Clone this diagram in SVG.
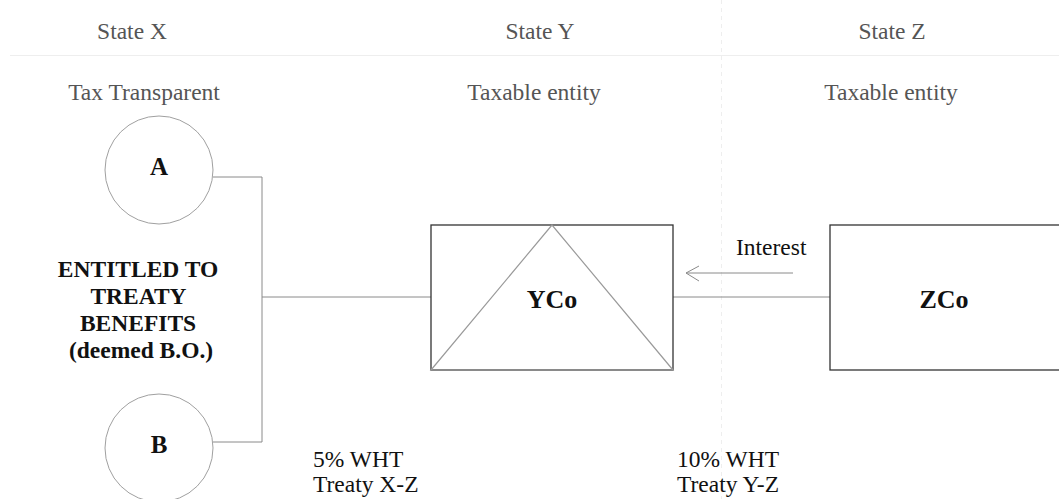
<svg xmlns="http://www.w3.org/2000/svg" width="1059" height="499" viewBox="0 0 1059 499">
  <style>
    .hdr { font-family: "Liberation Serif", "Times New Roman", serif; font-size: 23.5px; fill: #555; text-anchor: middle; }
    .lbl { font-family: "Liberation Serif", "Times New Roman", serif; font-size: 23.5px; fill: #111; }
    .bold { font-family: "Liberation Serif", "Times New Roman", serif; font-weight: bold; fill: #111; text-anchor: middle; }
    .grid { stroke: #eeeeee; stroke-width: 1; fill: none; }
    .conn { stroke: #8a8a8a; stroke-width: 1; fill: none; }
    .box { fill: #fff; stroke: #333; stroke-width: 1.3; }
    .circ { fill: #fff; stroke: #a0a0a0; stroke-width: 1; }
  </style>

  <rect width="1059" height="499" fill="#fff"/>

  <!-- column and header dividers -->
  <g id="dividers">
    <line class="grid" x1="10" y1="55.5" x2="1059" y2="55.5"/>
    <line class="grid" x1="721.5" y1="0" x2="721.5" y2="499" stroke-dasharray="4 4" stroke="#e2e2e2"/>
  </g>

  <!-- headers -->
  <g id="headers">
    <text class="hdr" x="132" y="39">State X</text>
    <text class="hdr" x="540" y="39">State Y</text>
    <text class="hdr" x="892" y="39">State Z</text>
    <text class="hdr" x="144" y="100">Tax Transparent</text>
    <text class="hdr" x="534" y="100">Taxable entity</text>
    <text class="hdr" x="891" y="100">Taxable entity</text>
  </g>

  <!-- connectors -->
  <g id="connectors">
    <polyline class="conn" points="213,177 262,177 262,442 213,442"/>
    <line class="conn" x1="262" y1="297" x2="431" y2="297"/>
    <line class="conn" x1="673" y1="297" x2="830" y2="297"/>
    <line class="conn" x1="793" y1="273" x2="686" y2="273"/>
    <polyline class="conn" points="699,266 686,273 699,281"/>
  </g>

  <g id="node-a">
    <circle class="circ" cx="159" cy="170" r="54"/>
    <text class="bold" x="159" y="175" font-size="25">A</text>
  </g>

  <g id="node-b">
    <circle class="circ" cx="159" cy="448" r="54"/>
    <text class="bold" x="159" y="453" font-size="25">B</text>
  </g>

  <g id="treaty-note">
    <text class="bold" font-size="23.5">
      <tspan x="141" y="277">ENTITLED TO</tspan>
      <tspan x="141" y="304">TREATY</tspan>
      <tspan x="141" y="331">BENEFITS</tspan>
      <tspan x="141" y="358">(deemed B.O.)</tspan>
    </text>
  </g>

  <g id="node-yco">
    <rect class="box" x="431" y="225" width="242" height="145"/>
    <polygon points="552,225 431,370 673,370" fill="none" stroke="#9a9a9a" stroke-width="1.2"/>
    <text class="bold" x="552" y="308" font-size="26">YCo</text>
  </g>

  <g id="node-zco">
    <rect class="box" x="830" y="225" width="240" height="145"/>
    <text class="bold" x="944" y="308" font-size="26">ZCo</text>
  </g>

  <g id="labels">
    <text class="lbl" x="736" y="255">Interest</text>
    <text class="lbl" x="313" y="467">5% WHT</text>
    <text class="lbl" x="313" y="492">Treaty X-Z</text>
    <text class="lbl" x="677" y="467">10% WHT</text>
    <text class="lbl" x="677" y="492">Treaty Y-Z</text>
  </g>
</svg>
